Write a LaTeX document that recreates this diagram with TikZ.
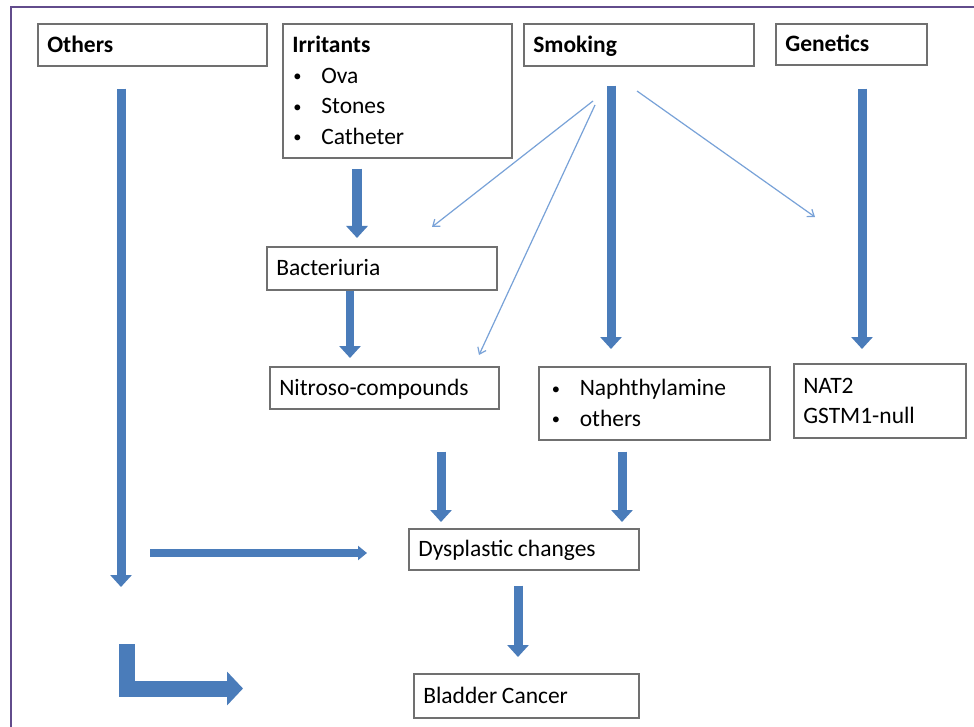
\documentclass[tikz,border=0pt]{standalone}
\usepackage{fontspec}
\setmainfont{Carlito}
\usetikzlibrary{arrows.meta}
\definecolor{boxgray}{RGB}{112,112,112}
\definecolor{arrowblue}{RGB}{74,124,186}
\definecolor{thinblue}{RGB}{120,162,216}
\definecolor{framepurple}{RGB}{98,76,140}
\newcommand{\FirstStrut}{\rule{0pt}{21.6pt}}
\newcommand{\LastStrut}{\rule[-6.4pt]{0pt}{6.4pt}}
\newcommand{\bul}{\makebox[29pt][l]{\hspace{1pt}\raisebox{1.5pt}{\scalebox{0.7}{\textbullet}}}}
\tikzset{
  box/.style={draw=boxgray, line width=1.6pt, anchor=north west, inner xsep=9.5pt,
    inner ysep=0pt, align=left, font=\fontsize{23.5pt}{30.5pt}\selectfont,
    execute at begin node={\spaceskip=0.2em\relax}},
  big/.style={draw=arrowblue, line width=9pt, -{Triangle[length=12pt,width=21pt]}},
  mid/.style={draw=arrowblue, line width=8pt, -{Triangle[length=9pt,width=14pt]}},
  thin/.style={draw=thinblue, line width=1.2pt, -{Straight Barb[length=6pt,width=9pt]}},
}
\begin{document}
\begin{tikzpicture}[x=1pt,y=-1pt]
\useasboundingbox (0,0) rectangle (974,727);
\clip (0,0) rectangle (974,727);
\fill[white] (0,0) rectangle (974,727);
\draw[framepurple, line width=2.4pt] (11,7) rectangle (1010,760);

% boxes
\node[box, minimum height=42pt, text width=210pt] (oth) at (37,23) {\FirstStrut\textbf{Others}\LastStrut};
\node[box, minimum height=134pt, text width=210pt] (irr) at (282,23)
  {\FirstStrut\textbf{Irritants}\\\bul Ova\\\bul Stones\\\bul Catheter\LastStrut};
\node[box, minimum height=42pt, text width=211pt] (smk) at (523,23) {\FirstStrut\textbf{Smoking}\LastStrut};
\node[box, minimum height=41pt, text width=132pt] (gen) at (775,23) {\FirstStrut\textbf{Genetics}\LastStrut};
\node[box, minimum height=43pt, text width=211pt] (bac) at (266,246) {\FirstStrut Bacteriuria\LastStrut};
\node[box, minimum height=42pt, text width=210pt] (nit) at (269,366) {\FirstStrut Nitroso-compounds\LastStrut};
\node[box, minimum height=73pt, text width=211pt, inner xsep=10pt] (nap) at (538,366)
  {\FirstStrut\hspace{2pt}\bul Naphthylamine\\\hspace{2pt}\bul others\LastStrut};
\node[box, minimum height=74pt, text width=153pt] (nat) at (793,363) {\FirstStrut NAT2\\GSTM1-null\LastStrut};
\node[box, minimum height=41pt, text width=211pt] (dys) at (408,528) {\FirstStrut Dysplastic changes\LastStrut};
\node[box, minimum height=44pt, text width=206pt] (bla) at (413,673) {\FirstStrut Bladder Cancer\LastStrut};

% free coordinates
\coordinate (othend) at (121,587);
\coordinate (hstart) at (150,553);
\coordinate (bentA) at (126.5,644);
\coordinate (bentB) at (243,688.5);
\coordinate (fanA) at (593,101);
\coordinate (fanB) at (595,105);
\coordinate (fanC) at (637,91);
\coordinate (tipA) at (432,227);
\coordinate (tipB) at (479,355);
\coordinate (tipC) at (815,217);

% thick arrows
\draw[big, shorten <=22pt] (oth.south -| othend) -- (othend);
\draw[big, line width=10pt, shorten <=10pt, shorten >=8pt] (irr.south -| 357,0) -- (bac.north -| 357,0);
\draw[big, line width=8.5pt, shorten >=8pt] (bac.south -| 350,0) -- (nit.north -| 350,0);
\draw[big, shorten <=19pt, shorten >=17pt] (smk.south -| 611,0) -- (nap.north -| 611,0);
\draw[big, shorten <=23pt, shorten >=14pt] (gen.south -| 862,0) -- (nat.north -| 862,0);
\draw[big, shorten <=42pt, shorten >=6pt] (nit.south -| 441,0) -- (dys.north -| 441,0);
\draw[big, shorten <=11pt, shorten >=6pt] (nap.south -| 622,0) -- (dys.north -| 622,0);
\draw[big, shorten <=15pt, shorten >=16pt] (dys.south -| 518,0) -- (bla.north -| 518,0);
\draw[mid, shorten >=41pt] (hstart) -- (dys.west |- hstart);
\draw[arrowblue, line width=16pt, line join=miter, -{Triangle[length=16pt,width=33pt]}] (bentA) |- (bentB);

% thin arrows
\draw[thin] (fanA) -- (tipA);
\draw[thin] (fanB) -- (tipB);
\draw[thin] (fanC) -- (tipC);
\end{tikzpicture}
\end{document}
